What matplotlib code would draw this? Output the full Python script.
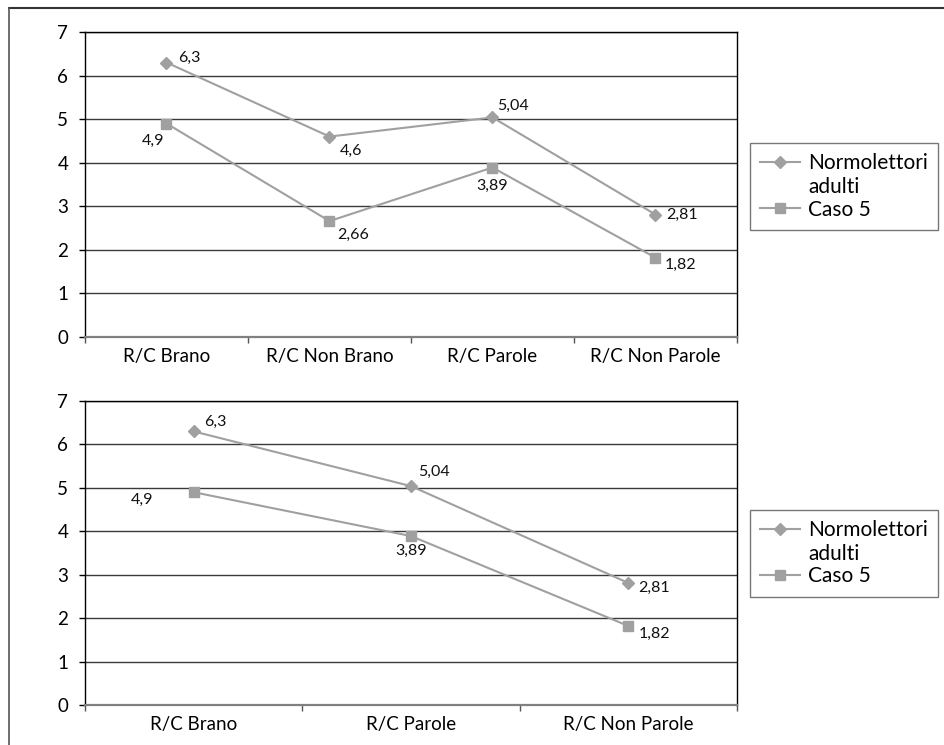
import matplotlib
matplotlib.use('Agg')
import matplotlib.pyplot as plt
from matplotlib.lines import Line2D
from matplotlib.legend_handler import HandlerLine2D

plt.rcParams['font.family'] = ['Lato', 'DejaVu Sans']

# data
categories_top = ['R/C Brano', 'R/C Non Brano', 'R/C Parole', 'R/C Non Parole']
normo_top = [6.3, 4.6, 5.04, 2.81]
caso_top = [4.9, 2.66, 3.89, 1.82]

categories_bottom = ['R/C Brano', 'R/C Parole', 'R/C Non Parole']
normo_bottom = [6.3, 5.04, 2.81]
caso_bottom = [4.9, 3.89, 1.82]

series_names = ['Normolettori\nadulti', 'Caso 5']

# label placement per point: (dx, dy, ha) in pixels
offs_normo_top = [(12, 5, 'left'), (10, -14, 'left'),
                  (5, 12, 'left'), (11, 0, 'left')]
offs_caso_top = [(-2, -17, 'right'), (8, -14, 'left'),
                 (0, -18, 'center'), (9, -7, 'left')]
offs_normo_bot = [(10, 10, 'left'), (7, 14, 'left'), (10, -5, 'left')]
offs_caso_bot = [(-40, -8, 'right'), (0, -15, 'center'), (10, -8, 'left')]

W, H = 945, 745
GREY = '#a0a0a0'

fig = plt.figure(figsize=(W / 100, H / 100), dpi=100)


class FirstLineHandler(HandlerLine2D):
    # keep the legend symbol level with the first line of a two-line label
    def __init__(self, shift=0, **kw):
        super().__init__(**kw)
        self.shift = shift

    def create_artists(self, legend, orig_handle, xdescent, ydescent,
                       width, height, fontsize, trans):
        arts = super().create_artists(legend, orig_handle, xdescent, ydescent,
                                      width, height, fontsize, trans)
        for a in arts:
            a.set_ydata([y + self.shift for y in a.get_ydata()])
        return arts


def px_axes(l, t, r, b):
    return fig.add_axes([l / W, 1 - b / H, (r - l) / W, (b - t) / H])


def fmt(v):
    return f'{v:g}'.replace('.', ',')


def draw_chart(ax, cats, normo, caso, offs_n, offs_c, legend_top):
    x = list(range(len(cats)))
    ln_n, = ax.plot(x, normo, color=GREY, lw=1.5, marker='D', ms=6,
                    mec=GREY, mfc=GREY, label=series_names[0], zorder=3)
    ln_c, = ax.plot(x, caso, color=GREY, lw=1.5, marker='s', ms=6.5,
                    mec=GREY, mfc=GREY, label=series_names[1], zorder=3)

    for vals, offs in ((normo, offs_n), (caso, offs_c)):
        for xi, v, (dx, dy, ha) in zip(x, vals, offs):
            ax.annotate(fmt(v), (xi, v), xytext=(dx, dy),
                        textcoords='offset pixels', ha=ha, va='center',
                        fontsize=11.5, color='#111111')

    ax.set_xlim(-0.5, len(cats) - 0.5)
    ax.set_ylim(0, 7)
    ax.set_yticks(range(8))
    ax.tick_params(axis='y', length=4, width=1, pad=8, labelsize=13.5,
                   direction='out', color='black')

    # tick marks between categories, labels centred on them
    ax.set_xticks([i - 0.5 for i in range(len(cats) + 1)])
    ax.set_xticklabels([])
    ax.set_xticks(x, minor=True)
    ax.set_xticklabels(cats, minor=True, fontsize=13.5)
    ax.tick_params(axis='x', which='major', length=4, width=1, color='#555555')
    ax.tick_params(axis='x', which='minor', length=0, pad=8)

    ax.grid(axis='y', color='#3a3a3a', lw=1.0)
    ax.set_axisbelow(True)
    for side in ('left', 'right', 'top'):
        ax.spines[side].set_color('black')
        ax.spines[side].set_linewidth(1.0)
    ax.spines['bottom'].set_color('#808080')
    ax.spines['bottom'].set_linewidth(1.6)

    leg = ax.legend(loc='upper left', bbox_to_anchor=(750 / W, 1 - legend_top / H),
                    bbox_transform=fig.transFigure, frameon=True, fancybox=False,
                    fontsize=15, handlelength=1.9, handletextpad=0.4,
                    borderpad=0.5, labelspacing=0.1, borderaxespad=0,
                    handler_map={ln_n: FirstLineHandler(shift=10),
                                 ln_c: FirstLineHandler(shift=0)})
    for t in leg.get_texts():
        t.set_linespacing(1.25)
    leg.get_frame().set_edgecolor('#555555')
    leg.get_frame().set_linewidth(1.0)


ax1 = px_axes(85, 32, 737, 337)
draw_chart(ax1, categories_top, normo_top, caso_top,
           offs_normo_top, offs_caso_top, 143)

ax2 = px_axes(85, 401, 737, 705)
draw_chart(ax2, categories_bottom, normo_bottom, caso_bottom,
           offs_normo_bot, offs_caso_bot, 510)

# outer frame (top and left edges)
fig.add_artist(Line2D([9 / W, 1], [1 - 8 / H, 1 - 8 / H], color='#333333',
                      lw=1.5, transform=fig.transFigure))
fig.add_artist(Line2D([9 / W, 9 / W], [0, 1 - 8 / H], color='#555555',
                      lw=1.2, transform=fig.transFigure))

fig.savefig('out.png', dpi=100)
